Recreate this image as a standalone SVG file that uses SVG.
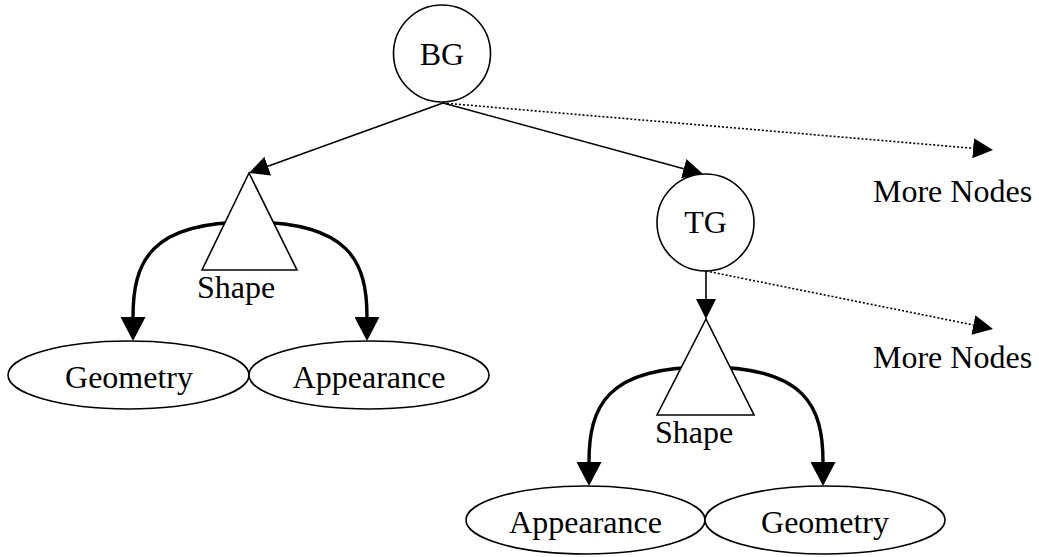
<svg xmlns="http://www.w3.org/2000/svg" width="1039" height="557" viewBox="0 0 1039 557">
  <style>
    .node { fill: #ffffff; stroke: #000000; stroke-width: 1.6; }
    .label { font-family: "Liberation Serif", "Times New Roman", serif; font-size: 32px; fill: #000000; }
    .mid { text-anchor: middle; }
    .edge { fill: none; stroke: #000000; stroke-width: 1.6; }
    .thick { fill: none; stroke: #000000; stroke-width: 3.4; }
    .dotted { fill: none; stroke: #000000; stroke-width: 1.6; stroke-dasharray: 2 2; }
  </style>
  <defs>
    <marker id="arrow" markerUnits="userSpaceOnUse" markerWidth="20" markerHeight="20" refX="0" refY="10" orient="auto">
      <path d="M0,0 L20,10 L0,20 Z" fill="#000000" stroke="none"/>
    </marker>
    <marker id="arrowBold" markerUnits="userSpaceOnUse" markerWidth="24" markerHeight="25" refX="0" refY="12.5" orient="auto">
      <path d="M0,0 L24,12.5 L0,25 Z" fill="#000000" stroke="none"/>
    </marker>
  </defs>
  <rect width="1039" height="557" fill="#ffffff"/>

  <g id="connectors">
    <!-- BG children -->
    <line class="edge" x1="443" y1="103" x2="267.8" y2="166.2" marker-end="url(#arrow)"/>
    <line class="edge" x1="443" y1="103" x2="683.7" y2="168.7" marker-end="url(#arrow)"/>
    <line class="dotted" x1="443" y1="103" x2="973.1" y2="148.3" marker-end="url(#arrow)"/>
    <!-- TG children -->
    <line class="edge" x1="706" y1="271" x2="706" y2="299" marker-end="url(#arrow)"/>
    <line class="dotted" x1="706" y1="271" x2="973.4" y2="325" marker-end="url(#arrow)"/>
    <!-- Shape (left) to its components -->
    <path class="thick" d="M249,222 C150,222 133,262 133,317" marker-end="url(#arrowBold)"/>
    <path class="thick" d="M249,222 C350,222 367,262 367,317" marker-end="url(#arrowBold)"/>
    <!-- Shape (right) to its components -->
    <path class="thick" d="M706,367 C606,367 589,407 589,462" marker-end="url(#arrowBold)"/>
    <path class="thick" d="M706,367 C806,367 823,407 823,462" marker-end="url(#arrowBold)"/>
  </g>

  <g id="bg">
    <circle class="node" cx="442" cy="53.5" r="48.5"/>
    <text class="label mid" x="442" y="65">BG</text>
  </g>

  <g id="tg">
    <circle class="node" cx="705.5" cy="222.5" r="48.5"/>
    <text class="label mid" x="705.5" y="233">TG</text>
  </g>

  <g id="shape1">
    <polygon class="node" points="249,173 202,270 297,270"/>
    <text class="label" x="197" y="298">Shape</text>
  </g>

  <g id="geometry1">
    <ellipse class="node" cx="128.5" cy="375" rx="120.5" ry="34"/>
    <text class="label mid" x="129" y="388">Geometry</text>
  </g>

  <g id="appearance1">
    <ellipse class="node" cx="369" cy="375" rx="120" ry="34"/>
    <text class="label mid" x="369" y="388">Appearance</text>
  </g>

  <g id="more1">
    <text class="label" x="873" y="202">More Nodes</text>
  </g>

  <g id="shape2">
    <polygon class="node" points="706,319 657,415 754,415"/>
    <text class="label" x="655" y="443">Shape</text>
  </g>

  <g id="more2">
    <text class="label" x="873" y="368">More Nodes</text>
  </g>

  <g id="appearance2">
    <ellipse class="node" cx="585.5" cy="520" rx="119.5" ry="34"/>
    <text class="label mid" x="585.5" y="533">Appearance</text>
  </g>

  <g id="geometry2">
    <ellipse class="node" cx="825" cy="520" rx="120" ry="34"/>
    <text class="label mid" x="825" y="533">Geometry</text>
  </g>
</svg>
